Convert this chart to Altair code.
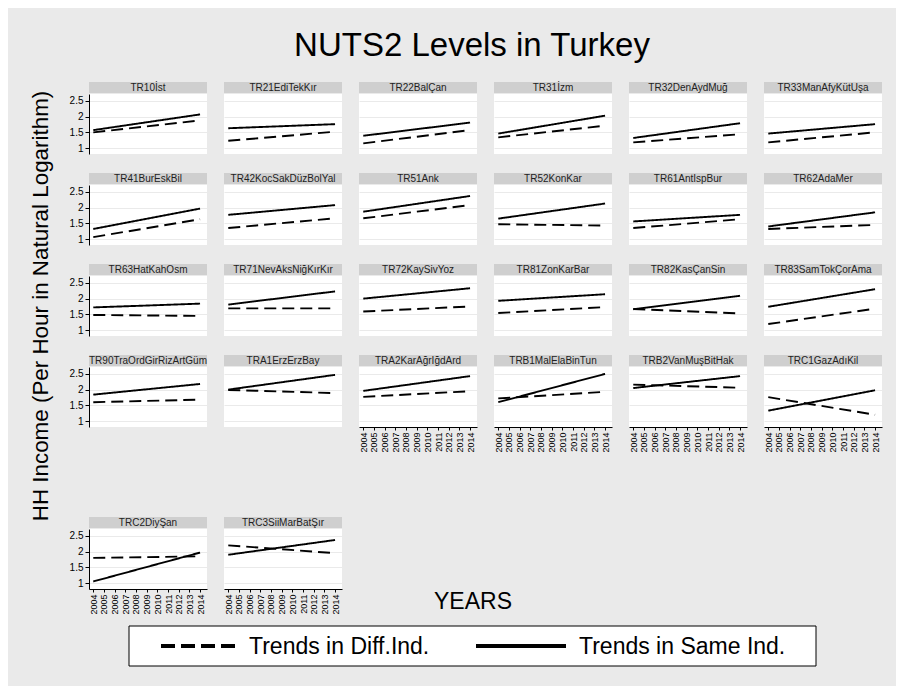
import altair as alt
import pandas as pd

# ---------------- data ----------------
regions = [
    "TR10İst", "TR21EdiTekKır", "TR22BalÇan", "TR31İzm", "TR32DenAydMuğ", "TR33ManAfyKütUşa",
    "TR41BurEskBil", "TR42KocSakDüzBolYal", "TR51Ank", "TR52KonKar", "TR61AntIspBur", "TR62AdaMer",
    "TR63HatKahOsm", "TR71NevAksNiğKırKır", "TR72KaySivYoz", "TR81ZonKarBar", "TR82KasÇanSin", "TR83SamTokÇorAma",
    "TR90TraOrdGirRizArtGüm", "TRA1ErzErzBay", "TRA2KarAğrIğdArd", "TRB1MalElaBinTun", "TRB2VanMuşBitHak", "TRC1GazAdıKil",
    "TRC2DiyŞan", "TRC3SiiMarBatŞır",
]
same_2004 = [1.57, 1.63, 1.39, 1.46, 1.32, 1.46,
             1.32, 1.77, 1.87, 1.65, 1.56, 1.40,
             1.72, 1.81, 2.00, 1.93, 1.66, 1.74,
             1.84, 2.00, 1.96, 1.60, 2.05, 1.33,
             1.05, 1.90]
same_2014 = [2.07, 1.76, 1.81, 2.03, 1.79, 1.76,
             1.97, 2.08, 2.37, 2.13, 1.77, 1.85,
             1.84, 2.23, 2.33, 2.14, 2.09, 2.30,
             2.18, 2.47, 2.43, 2.50, 2.43, 1.98,
             1.97, 2.37]
diff_2004 = [1.50, 1.23, 1.15, 1.34, 1.18, 1.18,
             1.06, 1.35, 1.66, 1.47, 1.35, 1.32,
             1.48, 1.69, 1.59, 1.54, 1.67, 1.19,
             1.60, 1.99, 1.77, 1.72, 2.16, 1.76,
             1.80, 2.20]
diff_2014 = [1.88, 1.52, 1.57, 1.71, 1.44, 1.50,
             1.63, 1.66, 2.08, 1.43, 1.63, 1.45,
             1.45, 1.69, 1.75, 1.73, 1.53, 1.68,
             1.68, 1.89, 1.95, 1.93, 2.06, 1.20,
             1.85, 1.95]
trend_years = [2004, 2014]
tick_years = [2004, 2005, 2006, 2007, 2008, 2009, 2010, 2011, 2012, 2013, 2014]
y_ticks = [1, 1.5, 2, 2.5]
series_labels = ["Trends in Diff.Ind.", "Trends in Same Ind."]
main_title = "NUTS2 Levels in Turkey"
y_title = "HH Income (Per Hour in Natural Logarithm)"
x_title = "YEARS"

# ---------------- style ----------------
FONT = "Liberation Sans"
BG = "#EAEAEA"
HDR = "#CFCFCF"
PW, PH = 118, 60


def panel(i, show_y, show_x):
    df = pd.DataFrame({
        "year": trend_years * 2,
        "value": [diff_2004[i], diff_2014[i], same_2004[i], same_2014[i]],
        "series": ["Diff", "Diff", "Same", "Same"],
    })
    if show_x:
        x_axis = alt.Axis(values=tick_years, format="d", labelAngle=270, grid=False,
                          tickSize=3, domainColor="black", tickColor="black",
                          labelFontSize=9, labelPadding=2, title=None, labelColor="black",
                          labelFont=FONT)
    else:
        x_axis = None
    if show_y:
        y_axis = alt.Axis(values=y_ticks, format=".1~f", grid=True, gridColor=BG,
                          tickSize=4, domainColor="black", tickColor="black",
                          labelFontSize=10, labelPadding=2, title=None, labelColor="black",
                          labelFont=FONT)
    else:
        y_axis = alt.Axis(values=y_ticks, grid=True, gridColor=BG, labels=False,
                          ticks=False, domain=False, title=None)
    lines = alt.Chart(df).mark_line(color="black", strokeWidth=1.9).encode(
        x=alt.X("year:Q", scale=alt.Scale(domain=[2003.6, 2014.65], nice=False, zero=False), axis=x_axis),
        y=alt.Y("value:Q", scale=alt.Scale(domain=[0.81, 2.72], nice=False, zero=False), axis=y_axis),
        strokeDash=alt.StrokeDash("series:N", scale=alt.Scale(domain=["Diff", "Same"], range=[[12, 6], [1, 0]]), legend=None),
        detail="series:N",
    )
    hdr = pd.DataFrame({"name": [regions[i]]})
    rect = alt.Chart(hdr).mark_rect(fill=HDR).encode(
        x=alt.value(0), x2=alt.value(PW), y=alt.value(-12), y2=alt.value(-1))
    txt = alt.Chart(hdr).mark_text(fontSize=10, font=FONT, color="#222222", baseline="middle").encode(
        x=alt.value(PW / 2), y=alt.value(-6.5), text="name:N")
    return alt.layer(lines, rect, txt).properties(
        width=PW, height=PH, view=alt.ViewBackground(fill="white", strokeWidth=0))


rows = []
for r in range(4):
    ps = []
    for c in range(6):
        i = r * 6 + c
        ps.append(panel(i, c == 0, r == 3 and c >= 2))
    rows.append(alt.hconcat(*ps, spacing=17))
top = alt.vconcat(*rows, spacing=19)

years_view = alt.Chart(pd.DataFrame({"t": [x_title]})).mark_text(
    fontSize=23, font=FONT, color="black", baseline="middle").encode(
    x=alt.value(113), y=alt.value(73), text="t:N").properties(width=250, height=70)

row5 = alt.hconcat(panel(24, True, True), panel(25, False, True), years_view, spacing=17)
grid = alt.vconcat(top, row5, spacing=64)

ytitle_view = alt.Chart(pd.DataFrame({"t": [y_title]})).mark_text(
    angle=270, fontSize=22.4, font=FONT, color="black", baseline="middle").encode(
    x=alt.value(27), y=alt.value(212), text="t:N").properties(width=54, height=440)

main = alt.hconcat(ytitle_view, grid, spacing=0)

# legend box
leg_df = pd.DataFrame({"label": series_labels})
box = alt.Chart(pd.DataFrame({"k": [0]})).mark_rect(fill="white", stroke="black", strokeWidth=1).encode(
    x=alt.value(115), x2=alt.value(802), y=alt.value(0), y2=alt.value(40))
dash_line = alt.Chart(pd.DataFrame({"k": [0]})).mark_rule(color="black", strokeWidth=4, strokeDash=[14, 6]).encode(
    x=alt.value(147), x2=alt.value(222), y=alt.value(20))
solid_line = alt.Chart(pd.DataFrame({"k": [0]})).mark_rule(color="black", strokeWidth=4).encode(
    x=alt.value(462), x2=alt.value(552), y=alt.value(20))
leg_text1 = alt.Chart(leg_df.iloc[[0]]).mark_text(fontSize=23, font=FONT, align="left", baseline="middle", color="black").encode(
    x=alt.value(235), y=alt.value(21), text="label:N")
leg_text2 = alt.Chart(leg_df.iloc[[1]]).mark_text(fontSize=23, font=FONT, align="left", baseline="middle", color="black").encode(
    x=alt.value(565), y=alt.value(21), text="label:N")
legend_view = alt.layer(box, dash_line, solid_line, leg_text1, leg_text2).properties(width=870, height=40)

chart = alt.vconcat(main, legend_view, spacing=10).properties(
    title=alt.TitleParams(main_title, fontSize=33, font=FONT, fontWeight="normal", color="black",
                          anchor="middle", dx=23, offset=19),
    padding={"left": 5, "top": 22, "right": 11, "bottom": 19},
    background=BG,
).configure_view(stroke="transparent")

chart.save("out.html", embed_options={"renderer": "svg", "actions": False})
